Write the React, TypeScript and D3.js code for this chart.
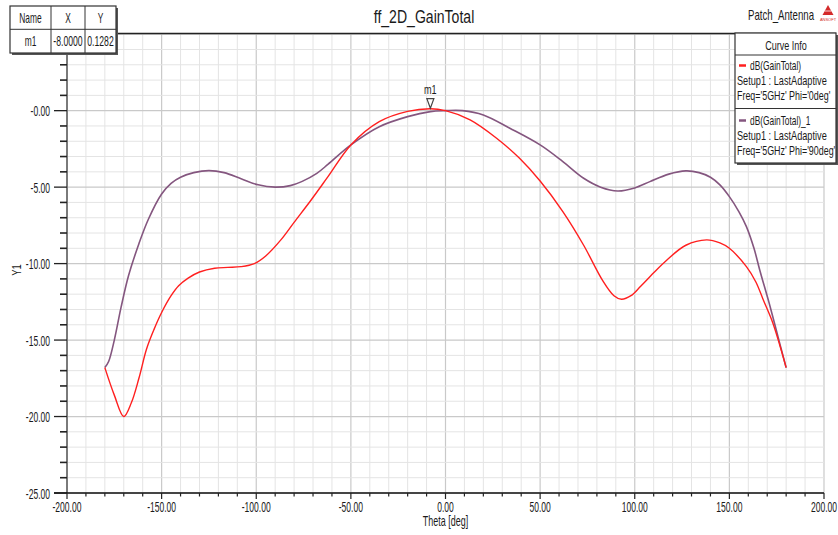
import React from "react";
import * as d3 from "d3";

// ---------- data ----------
const thetaPhi0 = [-180, -175, -170, -166, -162, -158, -154, -150, -145, -141, -136, -130, -122, -115, -108, -101, -95, -87, -80, -71, -62, -50, -35, -20, -8, 0, 13, 27, 39, 50, 62, 73, 83, 89, 93, 98, 103, 110, 117, 127, 138, 145, 150, 159, 164, 168, 173, 180];
const gainPhi0 = [-16.8, -18.6, -20.0, -19.1, -17.5, -15.6, -14.3, -13.2, -12.1, -11.45, -10.95, -10.55, -10.3, -10.25, -10.2, -10.0, -9.5, -8.45, -7.3, -5.84, -4.3, -2.24, -0.72, -0.05, 0.128, 0.0, -0.6, -1.8, -3.1, -4.6, -6.6, -8.8, -11.1, -12.1, -12.33, -12.1, -11.5, -10.6, -9.76, -8.8, -8.45, -8.65, -9.0, -10.2, -11.2, -12.4, -13.9, -16.8];

const thetaPhi90 = [-180, -178, -175, -171.5, -167.5, -162, -157, -150, -145, -140, -133, -125, -117, -108, -99, -90, -82, -76, -68, -62, -50, -35, -20, -8, 0, 9, 20, 34, 50, 62, 73, 82, 91, 100, 108, 118, 127, 134, 140, 145, 150, 155, 159, 163, 166, 171.5, 177, 180];
const gainPhi90 = [-16.8, -16.4, -15.0, -12.9, -10.8, -8.7, -7.1, -5.45, -4.75, -4.35, -4.05, -3.92, -4.05, -4.45, -4.85, -5.0, -4.9, -4.64, -4.1, -3.5, -2.24, -1.05, -0.39, -0.06, 0.0, 0.0, -0.28, -1.15, -2.24, -3.33, -4.42, -5.0, -5.25, -5.05, -4.64, -4.15, -3.94, -4.05, -4.35, -4.85, -5.62, -6.6, -7.58, -9.0, -10.4, -12.8, -15.4, -16.8];

const xTicks = [-200, -150, -100, -50, 0, 50, 100, 150, 200];
const xTickLabels = ["-200.00", "-150.00", "-100.00", "-50.00", "0.00", "50.00", "100.00", "150.00", "200.00"];
const yTicks = [-25, -20, -15, -10, -5, 0];
const yTickLabels = ["-25.00", "-20.00", "-15.00", "-10.00", "-5.00", "-0.00"];

const markerName = "m1";
const markerX = -8.0;
const markerY = 0.1282;
const markerXLabel = "-8.0000";
const markerYLabel = "0.1282";

const seriesNames = ["dB(GainTotal)", "dB(GainTotal)_1"];
const seriesSetup = ["Setup1 : LastAdaptive", "Setup1 : LastAdaptive"];
const seriesFreq = ["Freq='5GHz' Phi='0deg'", "Freq='5GHz' Phi='90deg'"];
const seriesColors = ["#ff1f1f", "#84567f"];

// ---------- layout ----------
const W = 838, H = 535;
const left = 67, right = 824, top = 34.2, bottom = 493;
const FONT = "'Liberation Sans', Arial, sans-serif";

const T = ({ x, y, size = 14, sx = 0.6, anchor = "start", fill = "#1a1a1a", rotate = 0, children }: any) => (
  <text
    transform={`translate(${x},${y}) rotate(${rotate}) scale(${sx},1)`}
    fontSize={size}
    textAnchor={anchor}
    fontFamily={FONT}
    fill={fill}
  >
    {children}
  </text>
);

export default function App() {
  const x = d3.scaleLinear().domain([-200, 200]).range([left, right]);
  const y = d3.scaleLinear().domain([-25, 5]).range([bottom, top]);

  const mk = (th: number[], g: number[]) =>
    d3
      .line<[number, number]>()
      .x((d) => x(d[0]))
      .y((d) => y(d[1]))
      .curve(d3.curveCatmullRom.alpha(0.5))(th.map((t, i) => [t, g[i]] as [number, number])) || "";

  const path0 = mk(thetaPhi0, gainPhi0);
  const path90 = mk(thetaPhi90, gainPhi90);

  const minorX = d3.range(-200, 201, 10);
  const minorY = d3.range(-25, 5.01, 1);

  const mx = x(markerX), my = y(markerY);

  return (
    <svg width={W} height={H} style={{ position: "absolute", left: 0, top: 0, background: "#fff" }}>
      <rect x={0} y={0} width={W} height={H} fill="#fff" />
      {/* grid */}
      {minorX.map((v) => (
        <line key={"gx" + v} x1={x(v)} x2={x(v)} y1={top} y2={bottom}
          stroke={v % 50 === 0 ? "#c9c9c9" : "#e4e4e4"} strokeWidth={v % 50 === 0 ? 1.2 : 1} />
      ))}
      {minorY.map((v) => (
        <line key={"gy" + v} x1={left} x2={right} y1={y(v)} y2={y(v)}
          stroke={v % 5 === 0 ? "#c9c9c9" : "#e4e4e4"} strokeWidth={v % 5 === 0 ? 1.2 : 1} />
      ))}

      {/* top border */}
      <line x1={left} x2={right + 12} y1={top - 0.8} y2={top - 0.8} stroke="#222" strokeWidth={1.5} />

      {/* curves */}
      <path d={path90} fill="none" stroke={seriesColors[1]} strokeWidth={1.6} />
      <path d={path0} fill="none" stroke={seriesColors[0]} strokeWidth={1.4} />

      {/* y axis */}
      <line x1={left} x2={left} y1={top} y2={bottom} stroke="#7a7a7a" strokeWidth={2} />
      {minorY.map((v) => (
        <line key={"ty" + v} x1={v % 5 === 0 ? left - 13 : left - 7} x2={left} y1={y(v)} y2={y(v)}
          stroke="#222" strokeWidth={v % 5 === 0 ? 1.3 : 1.6} />
      ))}
      {yTicks.map((v, i) => (
        <T key={"yl" + v} x={50} y={y(v) + 5.5} size={15} sx={0.57} anchor="end">{yTickLabels[i]}</T>
      ))}

      {/* x axis */}
      <line x1={left - 13} x2={right} y1={bottom} y2={bottom} stroke="#111" strokeWidth={1.5} />
      {minorX.map((v) => (
        <line key={"tx" + v} x1={x(v)} x2={x(v)} y1={bottom} y2={bottom + (v % 50 === 0 ? 6 : 3.5)}
          stroke="#222" strokeWidth={1.2} />
      ))}
      {xTicks.map((v, i) => (
        <T key={"xl" + v} x={x(v)} y={512} size={15} sx={0.57} anchor="middle">{xTickLabels[i]}</T>
      ))}
      <T x={x(0)} y={526} size={14} sx={0.64} anchor="middle">Theta [deg]</T>
      <T x={21} y={270} size={13} sx={0.72} anchor="middle" rotate={-90}>Y1</T>

      {/* title */}
      <T x={424} y={22.5} size={18.5} sx={0.76} anchor="middle">ff_2D_GainTotal</T>
      <T x={781} y={20} size={14} sx={0.69} anchor="middle">Patch_Antenna</T>
      {/* logo */}
      <path d="M828,5 L833.5,15 L822.5,15 Z" fill="#d42a2a" />
      <line x1={824.5} x2={831.5} y1={11} y2={11} stroke="#fff" strokeWidth={0.8} />
      <text x={828} y={20.5} fontSize={4} textAnchor="middle" fontFamily={FONT} fill="#d42a2a">ANSOFT</text>

      {/* marker */}
      <path d={`M${mx - 3.5},${my - 10} L${mx + 3.5},${my - 10} L${mx},${my - 0.5} Z`} fill="#fff" stroke="#444" strokeWidth={1.2} />
      <T x={mx} y={94} size={13} sx={0.7} anchor="middle">{markerName}</T>

      {/* marker table */}
      <rect x={12} y={8} width={106} height={47} fill="#555" />
      <rect x={10} y={6} width={106} height={47} fill="#fff" stroke="#333" strokeWidth={1.2} />
      <line x1={10} x2={116} y1={29.3} y2={29.3} stroke="#333" strokeWidth={1} />
      <line x1={51} x2={51} y1={6} y2={53} stroke="#333" strokeWidth={1} />
      <line x1={85} x2={85} y1={6} y2={53} stroke="#333" strokeWidth={1} />
      <T x={30.5} y={22.5} size={14} sx={0.6} anchor="middle">Name</T>
      <T x={68} y={22.5} size={14} sx={0.6} anchor="middle">X</T>
      <T x={100.5} y={22.5} size={14} sx={0.6} anchor="middle">Y</T>
      <T x={30.5} y={46} size={14} sx={0.6} anchor="middle">{markerName}</T>
      <T x={68} y={46} size={14} sx={0.62} anchor="middle">{markerXLabel}</T>
      <T x={100.5} y={46} size={14} sx={0.62} anchor="middle">{markerYLabel}</T>

      {/* legend */}
      <rect x={737} y={35} width={101} height={130} fill="#555" />
      <rect x={735} y={33} width={101} height={130} fill="#fff" stroke="#333" strokeWidth={1.2} />
      <T x={786} y={50} size={13.5} sx={0.67} anchor="middle">Curve Info</T>
      <line x1={735} x2={836} y1={55} y2={55} stroke="#333" strokeWidth={1} />
      <line x1={735} x2={836} y1={108.5} y2={108.5} stroke="#333" strokeWidth={1} />
      {[0, 1].map((i) => {
        const by = i === 0 ? 70 : 125;
        return (
          <g key={"lg" + i}>
            <line x1={739} x2={746} y1={by - 4.5} y2={by - 4.5} stroke={seriesColors[i]} strokeWidth={2.5} />
            <T x={750} y={by} size={13.5} sx={0.62}>{seriesNames[i]}</T>
            <T x={737} y={by + 15} size={13.5} sx={0.68}>{seriesSetup[i]}</T>
            <T x={737} y={by + 30} size={13.5} sx={0.66}>{seriesFreq[i]}</T>
          </g>
        );
      })}
    </svg>
  );
}
